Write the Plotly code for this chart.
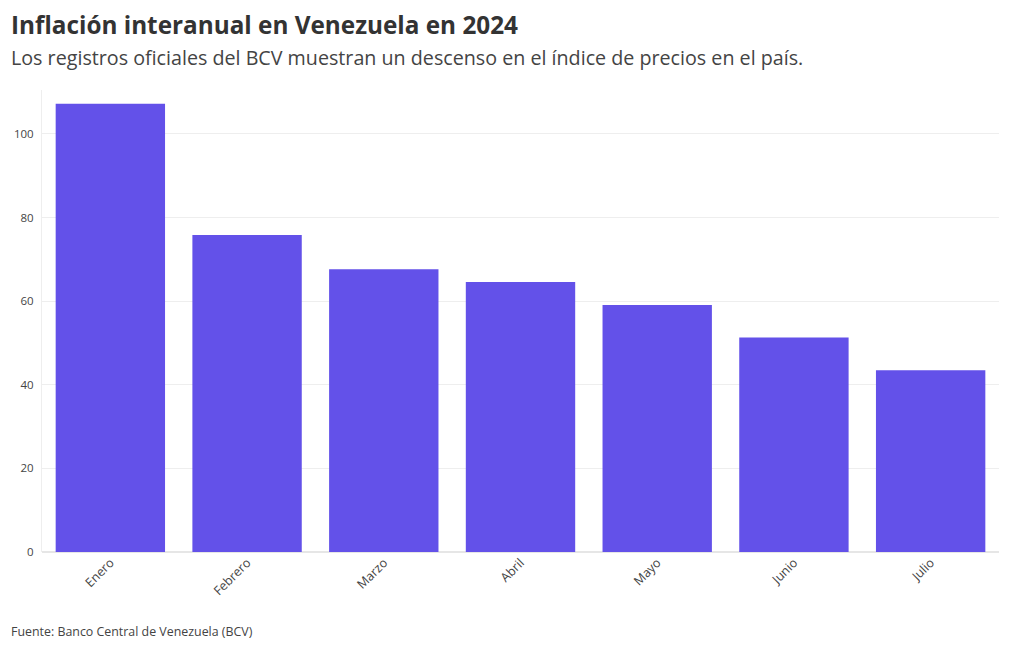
import plotly.graph_objects as go

meses = ["Enero", "Febrero", "Marzo", "Abril", "Mayo", "Junio", "Julio"]
inflacion = [107.2, 75.8, 67.6, 64.6, 59.1, 51.3, 43.5]
y_ticks = [0, 20, 40, 60, 80, 100]

FONT = "Open Sans, Noto Sans, sans-serif"

# page is rendered with an 8px body margin; layout in figure pixels
W, H = 1020, 650
L, R, T, B = 34, 29, 82, 106
PW, PH = W - L - R, H - T - B

def px(xf):
    return (xf - L) / PW

def py(yf):
    return (H - B - yf) / PH

fig = go.Figure(go.Bar(
    x=meses, y=inflacion,
    marker=dict(color="#6351e9", line=dict(width=0)),
    hoverinfo="x+y",
))

fig.update_layout(
    width=W, height=H,
    margin=dict(l=L, r=R, t=T, b=B, autoexpand=False),
    paper_bgcolor="white", plot_bgcolor="white",
    font=dict(family=FONT, color="#444", size=12),
    bargap=0.2,
    showlegend=False,
    xaxis=dict(tickangle=-45, tickfont=dict(size=12.5, color="#444"),
               showgrid=False, showline=False, ticks=""),
    yaxis=dict(range=[0, 110.5], tickvals=y_ticks, tickfont=dict(size=11.5, color="#444"),
               ticklabelstandoff=5,
               showgrid=True, gridcolor="#eeeeee", zeroline=True, zerolinecolor="#e6e6e6",
               showline=True, linecolor="#eeeeee", ticks=""),
    annotations=[
        dict(text="<b>Inflación interanual en Venezuela en 2024</b>",
             x=px(1), y=py(17), xref="paper", yref="paper",
             showarrow=False, xanchor="left", yanchor="middle",
             font=dict(size=24.3, color="#333", family=FONT)),
        dict(text="Los registros oficiales del BCV muestran un descenso en el índice de precios en el país.",
             x=px(1), y=py(49), xref="paper", yref="paper",
             showarrow=False, xanchor="left", yanchor="middle",
             font=dict(size=19.7, color="#444", family=FONT)),
        dict(text="Fuente: Banco Central de Venezuela (BCV)",
             x=px(1), y=py(623), xref="paper", yref="paper",
             showarrow=False, xanchor="left", yanchor="middle",
             font=dict(size=12.4, color="#444", family=FONT)),
    ],
)

fig.write_html("out.html")
